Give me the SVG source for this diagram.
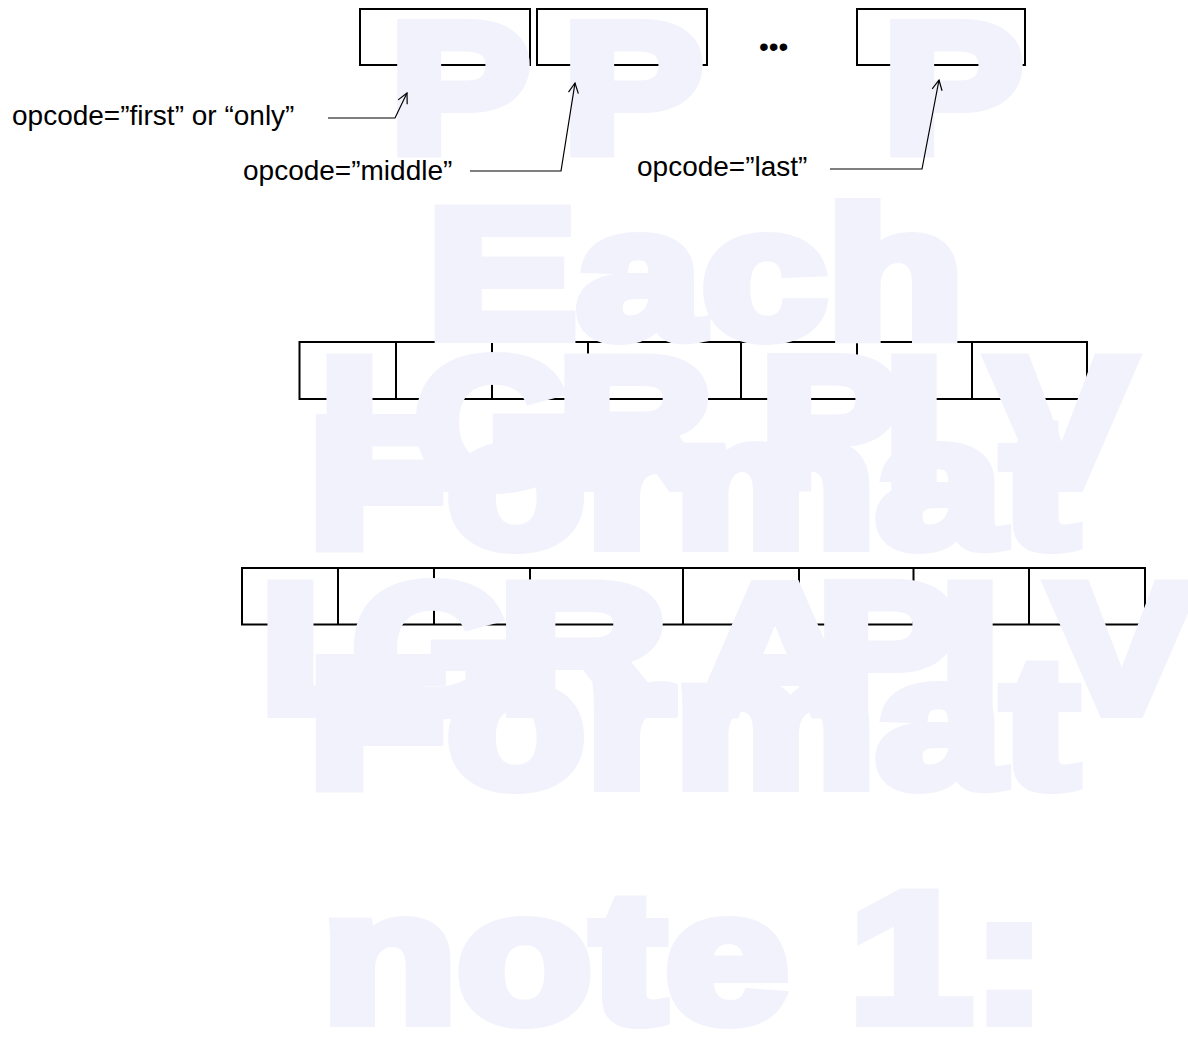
<svg xmlns="http://www.w3.org/2000/svg" width="1188" height="1042" viewBox="0 0 1188 1042">
<style>
.box{fill:none;stroke:#000;stroke-width:2}
.div{stroke:#000;stroke-width:2}
.wm{font-family:"Liberation Sans",Arial,sans-serif;font-weight:bold;font-size:184px;fill:#f2f2fc;stroke:#f2f2fc;stroke-width:12;stroke-linejoin:miter;stroke-miterlimit:3}
.lbl{font-family:"Liberation Sans",Arial,sans-serif;font-size:28px;fill:#000}
.con{fill:none;stroke:#000;stroke-width:1.2}
</style>
<defs>
<marker id="ah" markerWidth="12" markerHeight="12" refX="11" refY="6" orient="auto" markerUnits="userSpaceOnUse">
<path d="M1,1 L11,6 L1,11" fill="none" stroke="#000" stroke-width="1.2"/>
</marker>
</defs>
<rect width="1188" height="1042" fill="#fff"/>
<g id="row-top">
<rect id="pkt1" class="box" x="360" y="9" width="170" height="56"/>
<rect id="pkt2" class="box" x="537" y="9" width="170" height="56"/>
<rect id="pkt3" class="box" x="857" y="9" width="168" height="56"/>
</g>
<g id="row-middle">
<rect class="box" x="299.5" y="342" width="787.5" height="57"/>
<path class="div" d="M396,342V399M492,342V399M588,342V399M741,342V399M857,342V399M972,342V399"/>
</g>
<g id="row-bottom">
<rect class="box" x="242" y="568" width="903" height="56.5"/>
<path class="div" d="M338,568V624.5M434,568V624.5M530,568V624.5M683,568V624.5M799,568V624.5M913.5,568V624.5M1029,568V624.5"/>
</g>
<g id="watermark">
<text class="wm" x="390" y="152" textLength="140" lengthAdjust="spacingAndGlyphs">P</text>
<text class="wm" x="563" y="152" textLength="140" lengthAdjust="spacingAndGlyphs">P</text>
<text class="wm" x="883" y="152" textLength="140" lengthAdjust="spacingAndGlyphs">P</text>
<text class="wm" x="427" y="337" textLength="537" lengthAdjust="spacingAndGlyphs">Each</text>
<text class="wm" x="319" y="486" textLength="134" lengthAdjust="spacingAndGlyphs">L</text>
<text class="wm" x="414" y="486" textLength="160" lengthAdjust="spacingAndGlyphs">G</text>
<text class="wm" x="557" y="486" textLength="156" lengthAdjust="spacingAndGlyphs">R</text>
<text class="wm" x="760" y="486" textLength="140" lengthAdjust="spacingAndGlyphs">P</text>
<text class="wm" x="884" y="486" textLength="60" lengthAdjust="spacingAndGlyphs">I</text>
<text class="wm" x="989" y="486" textLength="145" lengthAdjust="spacingAndGlyphs">V</text>
<text class="wm" x="308" y="546" textLength="770" lengthAdjust="spacingAndGlyphs">Format</text>
<text class="wm" x="260" y="712" textLength="134" lengthAdjust="spacingAndGlyphs">L</text>
<text class="wm" x="352" y="712" textLength="160" lengthAdjust="spacingAndGlyphs">G</text>
<text class="wm" x="498" y="712" textLength="170" lengthAdjust="spacingAndGlyphs">R</text>
<text class="wm" x="696" y="712" textLength="158" lengthAdjust="spacingAndGlyphs">A</text>
<text class="wm" x="817" y="712" textLength="140" lengthAdjust="spacingAndGlyphs">P</text>
<text class="wm" x="940" y="712" textLength="60" lengthAdjust="spacingAndGlyphs">I</text>
<text class="wm" x="1049" y="712" textLength="145" lengthAdjust="spacingAndGlyphs">V</text>
<text class="wm" x="308" y="786" textLength="770" lengthAdjust="spacingAndGlyphs">Format</text>
<text class="wm" x="322" y="1021" textLength="724" lengthAdjust="spacingAndGlyphs">note 1:</text>
</g>
<g id="connectors">
<path class="con" d="M328,118 H395 L407,93" marker-end="url(#ah)"/>
<path class="con" d="M470,171 H561 L575,83" marker-end="url(#ah)"/>
<path class="con" d="M830,169 H922 L939,80" marker-end="url(#ah)"/>
</g>
<g id="labels">
<text class="lbl" x="12" y="125">opcode=”first” or “only”</text>
<text class="lbl" x="243" y="180">opcode=”middle”</text>
<text class="lbl" x="637" y="176">opcode=”last”</text>
<text class="lbl" x="759" y="56" font-size="40">•••</text>
</g>
</svg>
